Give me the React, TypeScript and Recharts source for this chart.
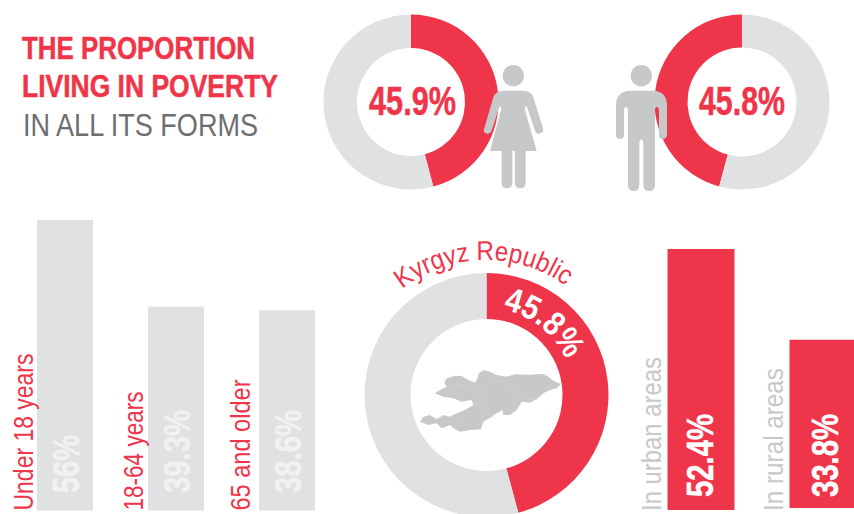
import { Bar, BarChart, Cell, LabelList, Pie, PieChart, XAxis, YAxis } from "recharts";

const RED = "#ef3549";
const RING_GREY = "#e0e1e3";
const ICON_GREY = "#c7c8ca";
const VALUE_LIGHT = "#f1f1f2";
const TITLE_GREY = "#6d6e71";
const NARROW = '"Liberation Sans Narrow", "Liberation Sans", sans-serif';

const womenShare = [45.9, 54.1];
const menShare = [45.8, 54.2];
const nationalShare = [45.8, 54.2];

const ageGroups = ["Under 18 years", "18-64 years", "65 and older"];
const ageValues = [56, 39.3, 38.6];
const ageLabels = ["56%", "39.3%", "38.6%"];

const urbanData = [{ name: "In urban areas", value: 52.4, label: "52.4%" }];
const ruralData = [{ name: "In rural areas", value: 33.8, label: "33.8%" }];

const ageData = ageGroups.map((name, i) => ({ name, value: ageValues[i], label: ageLabels[i] }));

// drawn lengths of the rotated labels, picked to line up with the reference
const ageNameLen = [157, 119, 131];
const ageNameOffset = [-4.5, -5.3, -9];
const ageValueLen = [58, 83, 83];

function rotatedLabel(
  text: string,
  x: number,
  y: number,
  len: number,
  size: number,
  fill: string,
  bold: boolean,
) {
  return (
    <text
      x={x}
      y={y}
      transform={`rotate(-90 ${x} ${y})`}
      fontFamily={NARROW}
      fontSize={size}
      fontWeight={bold ? 700 : 400}
      fill={fill}
      stroke={bold ? fill : "none"}
      strokeWidth={bold ? 0.5 : 0}
      textLength={len}
      lengthAdjust="spacingAndGlyphs"
    >
      {text}
    </text>
  );
}

function Donut({ data, cx, cy, inner, outer, clockwise = true }: any) {
  return (
    <Pie
      data={data}
      dataKey="value"
      cx={cx}
      cy={cy}
      innerRadius={inner}
      outerRadius={outer}
      startAngle={90}
      endAngle={clockwise ? -270 : 450}
      stroke="none"
      isAnimationActive={false}
    >
      <Cell fill={RED} />
      <Cell fill={RING_GREY} />
    </Pie>
  );
}

// one red column; both share the same value scale but sit on slightly different baselines.
// the band is twice the bar so the bar keeps its full width
function AreaColumn({ data, left, baseline, valueX, valueLen, nameLen }: any) {
  const plotHeight = 298.8;
  return (
    <div style={layer}>
      <BarChart
        width={left - 33.5 + 134}
        height={514}
        data={data}
        margin={{ top: baseline - plotHeight, right: 0, bottom: 514 - baseline, left: left - 33.5 }}
      >
        <XAxis dataKey="name" hide />
        <YAxis hide domain={[0, 60]} />
        <Bar dataKey="value" fill={RED} barSize={67} isAnimationActive={false}>
          <LabelList
            dataKey="label"
            content={(p: any) => rotatedLabel(p.value, p.x + valueX, 497, valueLen, 37, "#ffffff", true)}
          />
          <LabelList
            dataKey="name"
            content={(p: any) => rotatedLabel(p.value, p.x - 7, 511, nameLen, 28, ICON_GREY, false)}
          />
        </Bar>
      </BarChart>
    </div>
  );
}

const asPie = (values: number[]) => values.map((value) => ({ value }));

const layer: React.CSSProperties = { position: "absolute", left: 0, top: 0 };

export default function App() {
  return (
    <div style={{ position: "absolute", left: 0, top: 0, width: 854, height: 514, overflow: "hidden", background: "#fff" }}>
      <div style={layer}>
        <PieChart width={854} height={514} margin={{ top: 0, right: 0, bottom: 0, left: 0 }}>
          {Donut({ data: asPie(womenShare), cx: 411, cy: 102, inner: 54, outer: 87.5 })}
        </PieChart>
      </div>
      <div style={layer}>
        <PieChart width={854} height={514} margin={{ top: 0, right: 0, bottom: 0, left: 0 }}>
          {Donut({ data: asPie(menShare), cx: 742, cy: 102, inner: 54.5, outer: 87.5, clockwise: false })}
        </PieChart>
      </div>
      <div style={layer}>
        <PieChart width={854} height={514} margin={{ top: 0, right: 0, bottom: 0, left: 0 }}>
          {Donut({ data: asPie(nationalShare), cx: 486.5, cy: 395, inner: 76, outer: 122 })}
        </PieChart>
      </div>

      <div style={layer}>
        <BarChart
          width={854}
          height={514}
          data={ageData}
          margin={{ top: 220, right: 512, bottom: 3.5, left: 9 }}
        >
          <XAxis dataKey="name" hide />
          <YAxis hide domain={[0, 56]} />
          <Bar dataKey="value" fill={RING_GREY} barSize={56} isAnimationActive={false}>
            <LabelList
              dataKey="label"
              content={(p: any) =>
                rotatedLabel(p.value, p.x + 41.5, 493, ageValueLen[p.index], 36, VALUE_LIGHT, true)
              }
            />
            <LabelList
              dataKey="name"
              content={(p: any) =>
                rotatedLabel(p.value, p.x + ageNameOffset[p.index], 510.5, ageNameLen[p.index], 28, RED, false)
              }
            />
          </Bar>
        </BarChart>
      </div>

      <AreaColumn data={urbanData} left={667} baseline={510} valueX={45} valueLen={83} nameLen={154} />
      <AreaColumn data={ruralData} left={789} baseline={508} valueX={48} valueLen={83} nameLen={143} />

      <svg width={854} height={514} style={layer}>
        <defs>
          <path id="nameArc" d="M 402.4 289.2 A 135 135 0 0 1 589.7 308.2" />
          <path id="valueArc" d="M 502.9 309.6 A 87 87 0 0 1 568.1 365.2" />
        </defs>

        <g fontFamily={NARROW} fontSize={31}>
          <text x={22} y={59} fontWeight={700} fill={RED} stroke={RED} strokeWidth={0.5} textLength={233} lengthAdjust="spacingAndGlyphs">
            THE PROPORTION
          </text>
          <text x={22} y={97} fontWeight={700} fill={RED} stroke={RED} strokeWidth={0.5} textLength={256} lengthAdjust="spacingAndGlyphs">
            LIVING IN POVERTY
          </text>
          <text x={23} y={136} fill={TITLE_GREY} textLength={235} lengthAdjust="spacingAndGlyphs">
            IN ALL ITS FORMS
          </text>
        </g>

        <g fontFamily={NARROW} fontSize={40} fontWeight={700} fill={RED} stroke={RED} strokeWidth={0.5}>
          <text x={369} y={115} textLength={87} lengthAdjust="spacingAndGlyphs">45.9%</text>
          <text x={699} y={115} textLength={86} lengthAdjust="spacingAndGlyphs">45.8%</text>
        </g>

        <text fontFamily={NARROW} fontSize={27} fill={RED}>
          <textPath href="#nameArc" textLength={175} lengthAdjust="spacingAndGlyphs">Kyrgyz Republic</textPath>
        </text>
        <text fontFamily={NARROW} fontSize={34} fontWeight={700} fill="#ffffff">
          <textPath href="#valueArc" textLength={84} lengthAdjust="spacingAndGlyphs">45.8%</textPath>
        </text>

        {/* woman */}
        <g transform="translate(480 60) scale(0.3333)" fill={ICON_GREY}>
          <circle cx={100} cy={47} r={32} />
          <path d="M70 92 H132 Q153 92 160 112 L189 205 Q192 218 178 221 Q168 222 165 212 L143 146 Q138 132 134 146 L170 273 H137 V368 Q136 385 121 385 Q105 385 105 368 V273 H97 V368 Q96 385 81 385 Q65 385 65 368 V273 H30 L64 146 Q60 132 56 146 L35 212 Q30 223 20 221 Q8 218 13 205 L40 112 Q47 92 70 92 Z" />
        </g>

        {/* man */}
        <g transform="translate(610 60) scale(0.3333)" fill={ICON_GREY}>
          <circle cx={94} cy={47} r={32} />
          <path d="M60 92 H130 Q170 94 171 135 V225 Q170 237 158 237 Q147 237 147 225 V148 Q141 132 135 148 V375 Q134 393 118 393 Q100 393 100 375 V245 Q94 230 88 245 V375 Q87 393 71 393 Q54 393 54 375 V148 Q48 132 42 148 V225 Q41 237 30 237 Q18 237 18 225 V135 Q19 94 60 92 Z" />
        </g>

        {/* country map */}
        <g transform="translate(415 360) scale(0.3333)">
          <path
            fill={ICON_GREY}
            d="M60 100 L78 88 L95 80 L88 68 L95 55 L120 47 L140 48 L160 60 L180 68 L188 55 L190 42 L205 30 L225 35 L245 45 L275 50 L300 43 L340 44 L385 42 L400 50 L415 62 L438 72 L425 85 L405 90 L385 100 L365 118 L345 128 L320 125 L305 150 L285 165 L265 165 L262 150 L245 160 L230 170 L205 185 L198 208 L165 210 L135 215 L115 205 L105 195 L80 205 L65 190 L40 195 L15 185 L25 170 L45 165 L65 178 L85 165 L105 170 L125 160 L150 150 L175 135 L170 120 L140 125 L115 115 L85 110 Z"
          />
          <path
            fill="none"
            stroke="#d6d7d9"
            strokeWidth={1.5}
            d="M95 80 L140 75 L195 100 L205 125 L175 135 M170 70 L195 85 L230 65 L270 65 L300 95 L325 105 L345 120 L365 118 M205 135 L240 175 M120 170 L135 195"
          />
        </g>
      </svg>
    </div>
  );
}
